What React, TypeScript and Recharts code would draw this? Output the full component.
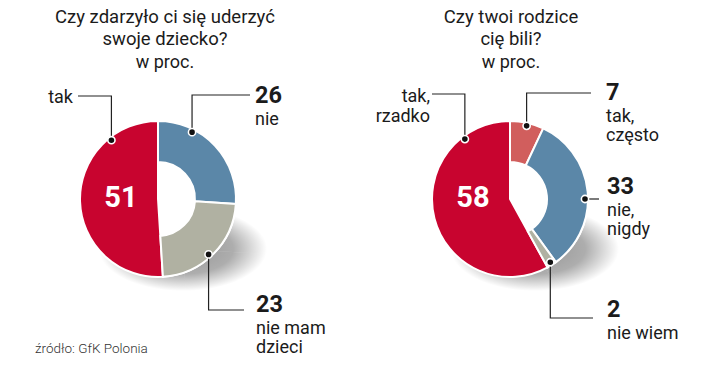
import { PieChart, Pie, Cell } from 'recharts';

// left chart: "Czy zdarzyło ci się uderzyć swoje dziecko?"
const leftCategories = ['nie', 'nie mam\ndzieci', 'tak'];
const leftValues = [26, 23, 51];
const leftTitle = ['Czy zdarzyło ci się uderzyć', 'swoje dziecko?'];

// right chart: "Czy twoi rodzice cię bili?"
const rightCategories = ['tak,\nczęsto', 'nie,\nnigdy', 'nie wiem', 'tak,\nrzadko'];
const rightValues = [7, 33, 2, 58];
const rightTitle = ['Czy twoi rodzice', 'cię bili?'];

const unitLabel = 'w proc.';
const sourceLabel = 'źródło: GfK Polonia';

const RED = '#c8042f';
const LIGHT_RED = '#d15e5d';
const BLUE = '#5b87a8';
const GRAY = '#b0b1a2';
const INK = '#1b1b1b';
const FONT = 'Roboto, "Liberation Sans", Arial, sans-serif';

const leftColors = [BLUE, GRAY, RED];
const rightColors = [LIGHT_RED, BLUE, GRAY, RED];

const leftData = leftCategories.map((name, i) => ({ name, value: leftValues[i] }));
const rightData = rightCategories.map((name, i) => ({ name, value: rightValues[i] }));

// annotation layout (page coords): dot angle (deg clockwise from 12 o'clock), elbow, text position
type Ann = { angle: number; elbowY?: number; endX: number; textX: number; side: 'left' | 'right'; y: number };

const leftAnn: Ann[] = [
  { angle: 27, elbowY: 95, endX: 250, textX: 255, side: 'right', y: 103 },
  { angle: 137.6, elbowY: 310, endX: 244, textX: 256, side: 'right', y: 312 },
  { angle: 321.6, elbowY: 96, endX: 78, textX: 73, side: 'left', y: 103 },
];

const rightAnn: Ann[] = [
  { angle: 12.8, elbowY: 93, endX: 591, textX: 606, side: 'right', y: 100 },
  { angle: 90, endX: 599, textX: 607, side: 'right', y: 194 },
  { angle: 147.5, elbowY: 318, endX: 593, textX: 607, side: 'right', y: 317 },
  { angle: 323, elbowY: 94, endX: 432, textX: 430, side: 'left', y: 102 },
];

const OUTER = 78;
const INNER = 37;
const PANEL_W = 360;
// shadow ellipse offset from the donut centre
const SH = { dx: 25, dy: 50, rx: 84, ry: 42 };

const makeLabel = (ann: Ann[], coreIndex: number, shift: number) => (props: any) => {
  const { cx, cy, index, value, name } = props;
  const a = ann[index];
  const rad = (a.angle * Math.PI) / 180;
  const r = OUTER - 3;
  const dx = cx + r * Math.sin(rad);
  const dy = cy - r * Math.cos(rad);
  const ey = a.elbowY ?? dy;
  const tx = a.textX - shift;
  const lines = String(name).split('\n');
  const isCore = index === coreIndex;
  return (
    <g key={`ann-${index}`}>
      <path d={`M${dx},${dy} V${ey} H${a.endX - shift}`} stroke="#222" strokeWidth={1.2} fill="none" />
      <circle cx={dx} cy={dy} r={3.6} fill="#111" stroke="#fff" strokeWidth={1.6} />
      {isCore ? (
        <>
          <text x={cx - 37} y={cy + 8} textAnchor="middle" fill="#fff" fontSize={29} fontWeight={700} fontFamily={FONT}>
            {value}
          </text>
          {lines.map((ln, i) => (
            <text key={i} x={tx} y={a.y + i * 20} textAnchor={a.side === 'left' ? 'end' : 'start'} fill={INK} fontSize={18} fontFamily={FONT}>
              {ln}
            </text>
          ))}
        </>
      ) : (
        <>
          <text x={tx} y={a.y} fill={INK} fontSize={23.5} fontWeight={700} fontFamily={FONT}>
            {value}
          </text>
          {lines.map((ln, i) => (
            <text key={i} x={tx} y={a.y + 22 + i * 19} fill={INK} fontSize={18} fontFamily={FONT}>
              {ln}
            </text>
          ))}
        </>
      )}
    </g>
  );
};

const pieBase = {
  dataKey: 'value',
  startAngle: 90,
  endAngle: -270,
  isAnimationActive: false,
};

const ShadowGrad = ({ id, cx, cy }: { id: string; cx: number; cy: number }) => {
  const sx = cx + SH.dx;
  const sy = cy + SH.dy;
  return (
    <radialGradient
      id={`shadow-${id}`}
      gradientUnits="userSpaceOnUse"
      cx={sx}
      cy={sy}
      r={SH.rx}
      gradientTransform={`translate(${sx} ${sy}) scale(1 ${SH.ry / SH.rx}) translate(${-sx} ${-sy})`}
    >
      <stop offset="0%" stopColor="#000" stopOpacity={0.42} />
      <stop offset="60%" stopColor="#000" stopOpacity={0.32} />
      <stop offset="85%" stopColor="#000" stopOpacity={0.12} />
      <stop offset="100%" stopColor="#000" stopOpacity={0} />
    </radialGradient>
  );
};

const DonutPanel = ({ id, data, colors, coreIndex, ann, cx, cy, left }: any) => {
  const lcx = cx - left;
  return (
    <div style={{ position: 'absolute', left, top: 0 }}>
      <svg width={0} height={0} style={{ position: 'absolute' }}>
        <defs>
          <ShadowGrad id={id} cx={lcx} cy={cy} />
        </defs>
      </svg>
      <PieChart width={PANEL_W} height={386} margin={{ top: 0, right: 0, bottom: 0, left: 0 }}>
        {/* soft elliptical shadow under the disc */}
        <Pie data={data} cx={lcx + SH.dx} cy={cy + SH.dy} innerRadius={0} outerRadius={SH.rx + 4} {...pieBase}>
          {data.map((_: any, i: number) => (
            <Cell key={i} fill={`url(#shadow-${id})`} stroke="none" />
          ))}
        </Pie>
        {/* red slice reaching the centre, white behind the ring hole */}
        <Pie data={data} cx={lcx} cy={cy} innerRadius={0} outerRadius={OUTER} {...pieBase}>
          {data.map((_: any, i: number) => (
            <Cell key={i} fill={i === coreIndex ? colors[i] : '#fff'} stroke="#fff" strokeWidth={2} />
          ))}
        </Pie>
        <Pie
          data={data}
          cx={lcx}
          cy={cy}
          innerRadius={INNER}
          outerRadius={OUTER}
          labelLine={false}
          label={makeLabel(ann, coreIndex, left)}
          {...pieBase}
        >
          {data.map((_: any, i: number) => (
            <Cell key={i} fill={i === coreIndex ? 'none' : colors[i]} stroke={i === coreIndex ? 'none' : '#fff'} strokeWidth={2} />
          ))}
        </Pie>
      </PieChart>
    </div>
  );
};

const Title = ({ x, lines }: { x: number; lines: string[] }) => (
  <g>
    {lines.map((ln, i) => (
      <text key={i} x={x} y={23 + i * 22} textAnchor="middle" fill={INK} fontSize={18.5} fontFamily={FONT}>
        {ln}
      </text>
    ))}
    <text x={x} y={68} textAnchor="middle" fill={INK} fontSize={18} fontFamily={FONT}>
      {unitLabel}
    </text>
  </g>
);

export default function App() {
  return (
    <div style={{ position: 'relative', width: 720, height: 386, background: '#fff', overflow: 'hidden' }}>
      <style>{`body{margin:0}`}</style>
      <DonutPanel id="left" data={leftData} colors={leftColors} coreIndex={2} ann={leftAnn} cx={158} cy={199} left={0} />
      <DonutPanel id="right" data={rightData} colors={rightColors} coreIndex={3} ann={rightAnn} cx={510} cy={199} left={PANEL_W} />
      <svg width={720} height={386} style={{ position: 'absolute', left: 0, top: 0, pointerEvents: 'none' }}>
        <Title x={165} lines={leftTitle} />
        <Title x={511} lines={rightTitle} />
        <text x={35} y={353} fill="#333" fontSize={13.5} fontWeight={300} fontFamily={FONT}>
          {sourceLabel}
        </text>
      </svg>
    </div>
  );
}
